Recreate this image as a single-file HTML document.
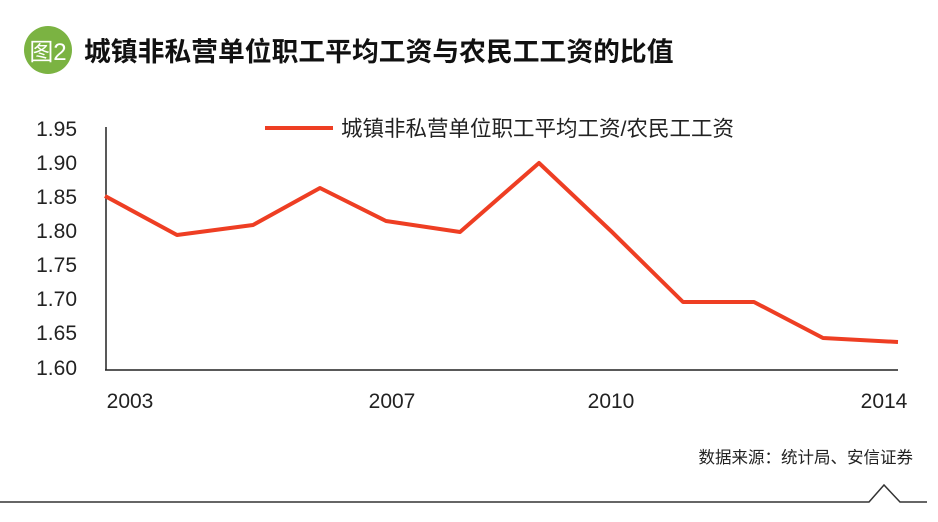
<!DOCTYPE html>
<html><head><meta charset="utf-8"><style>
body{margin:0;background:#fff;}
svg text{font-family:"Liberation Sans","Noto Sans CJK SC",sans-serif;}
</style></head><body>
<svg width="938" height="517" viewBox="0 0 938 517" xmlns="http://www.w3.org/2000/svg">
<circle cx="48" cy="50" r="24" fill="#7bb342"/>
<text x="48" y="60" font-size="24" fill="#fff" text-anchor="middle">图2</text>
<text x="84" y="61" font-size="26.8" font-weight="bold" fill="#111" font-family="'Noto Sans CJK SC',sans-serif">城镇非私营单位职工平均工资与农民工工资的比值</text>
<line x1="265" y1="128" x2="333" y2="128" stroke="#ee3e23" stroke-width="4"/>
<text x="341" y="136" font-size="21.5" fill="#222">城镇非私营单位职工平均工资/农民工工资</text>
<g font-size="21" fill="#222" text-anchor="end">
<text x="77" y="136">1.95</text><text x="77" y="170">1.90</text><text x="77" y="204">1.85</text><text x="77" y="238">1.80</text><text x="77" y="272">1.75</text><text x="77" y="306">1.70</text><text x="77" y="340">1.65</text><text x="77" y="375">1.60</text>
</g>
<line x1="106" y1="127" x2="106" y2="370" stroke="#222" stroke-width="1.5"/>
<line x1="105" y1="370" x2="898" y2="370" stroke="#222" stroke-width="1.5"/>
<g font-size="21" fill="#222" text-anchor="middle">
<text x="130" y="408">2003</text><text x="392" y="408">2007</text><text x="611" y="408">2010</text><text x="884" y="408">2014</text>
</g>
<polyline fill="none" stroke="#ee3e23" stroke-width="4" stroke-linejoin="round" points="105,196 177,235 253,225 320,188 386,221 460,232 539,163 612,232 683,302 754,302 823,338 898,342"/>
<text x="913" y="463" font-size="16.5" fill="#222" text-anchor="end">数据来源：统计局、安信证券</text>
<polyline fill="none" stroke="#333" stroke-width="1.5" points="0,502 869,502 884,485 900,502 927,502"/>
</svg>
</body></html>
